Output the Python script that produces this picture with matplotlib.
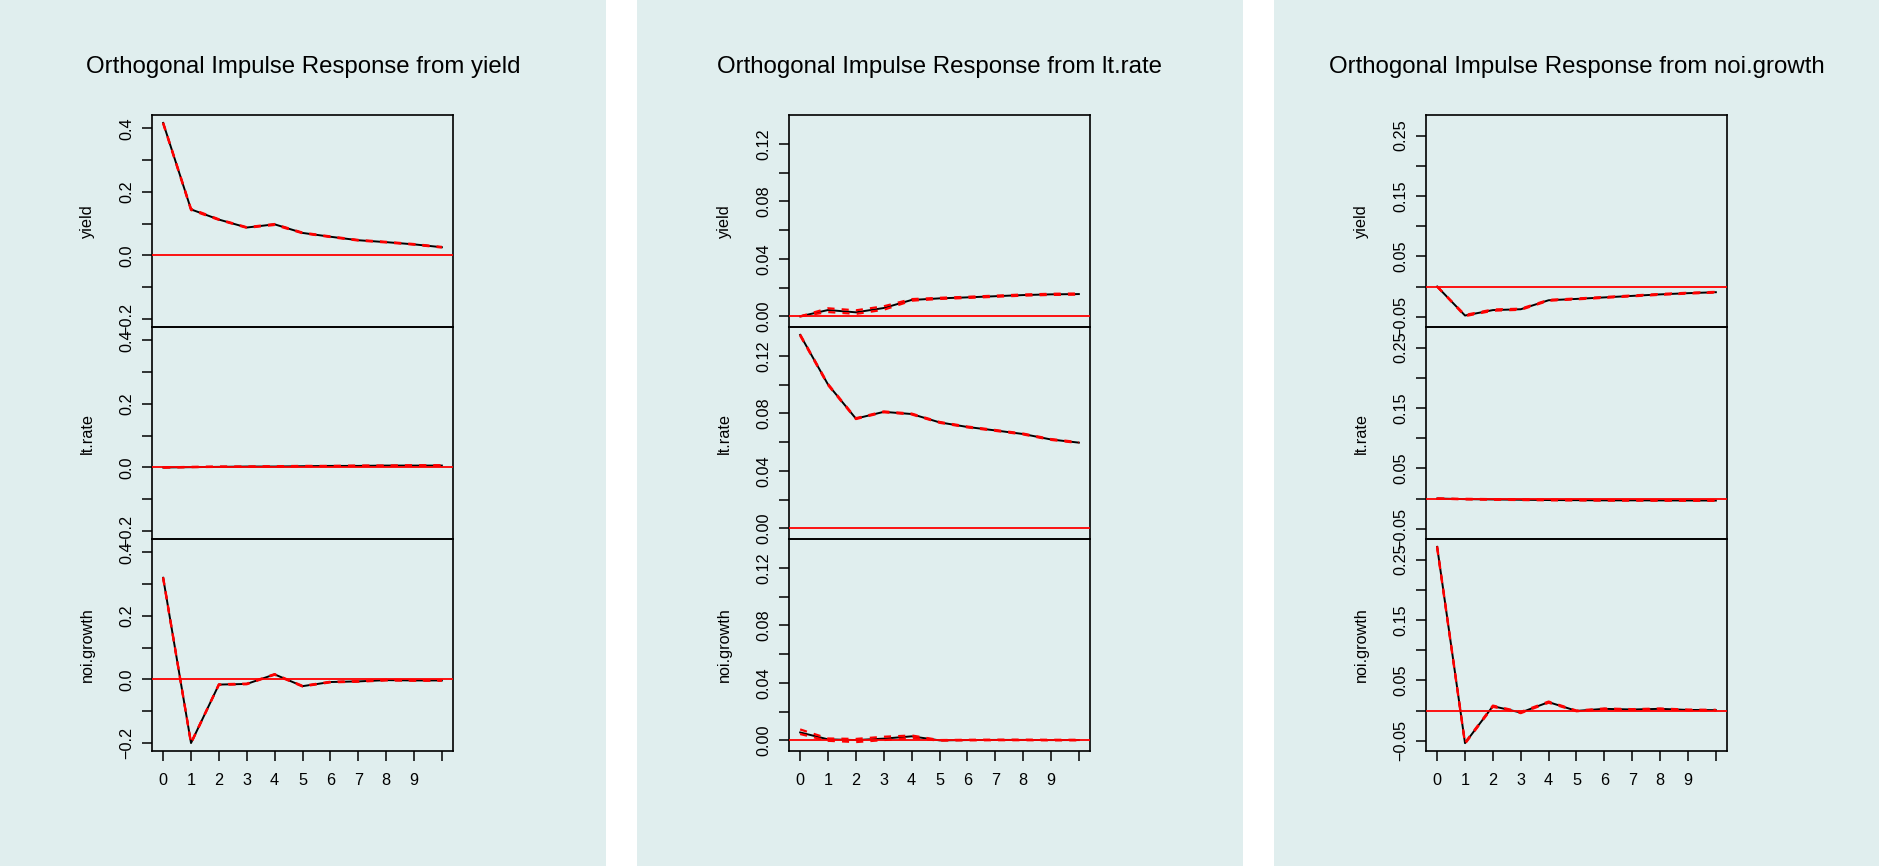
import matplotlib
matplotlib.use("Agg")
import matplotlib.pyplot as plt
from matplotlib.patches import Rectangle

plt.rcParams['font.family'] = ['Liberation Sans', 'DejaVu Sans']

# horizon steps and x tick labels
steps = list(range(11))
xtick_labels = ['0', '1', '2', '3', '4', '5', '6', '7', '8', '9', '']

impulses = ['yield', 'lt.rate', 'noi.growth']
responses = ['yield', 'lt.rate', 'noi.growth']

# --- impulse: yield ---
irf_yield_yield = [0.417, 0.145, 0.113, 0.088, 0.098, 0.071, 0.059, 0.048, 0.042, 0.035, 0.026]
lo_yield_yield = [0.415, 0.143, 0.112, 0.087, 0.096, 0.070, 0.058, 0.047, 0.041, 0.034, 0.025]
hi_yield_yield = [0.418, 0.147, 0.114, 0.089, 0.099, 0.072, 0.060, 0.049, 0.043, 0.036, 0.027]

irf_yield_lt = [0.000, 0.001, 0.002, 0.003, 0.003, 0.004, 0.005, 0.005, 0.006, 0.006, 0.006]
lo_yield_lt = [0.000, 0.001, 0.002, 0.002, 0.003, 0.004, 0.004, 0.005, 0.005, 0.006, 0.006]
hi_yield_lt = [0.000, 0.002, 0.003, 0.003, 0.004, 0.005, 0.005, 0.006, 0.006, 0.007, 0.007]

irf_yield_noi = [0.320, -0.200, -0.016, -0.014, 0.016, -0.021, -0.008, -0.006, -0.002, -0.003, -0.003]
lo_yield_noi = [0.318, -0.201, -0.017, -0.015, 0.015, -0.022, -0.009, -0.007, -0.003, -0.004, -0.004]
hi_yield_noi = [0.322, -0.199, -0.015, -0.013, 0.017, -0.020, -0.007, -0.005, -0.001, -0.002, -0.002]

# --- impulse: lt.rate ---
irf_lt_yield = [0.0000, 0.0044, 0.0028, 0.0058, 0.0114, 0.0125, 0.0132, 0.0140, 0.0148, 0.0153, 0.0155]
lo_lt_yield = [0.0000, 0.0030, 0.0017, 0.0046, 0.0109, 0.0121, 0.0128, 0.0136, 0.0144, 0.0149, 0.0151]
hi_lt_yield = [0.0000, 0.0056, 0.0042, 0.0070, 0.0120, 0.0129, 0.0136, 0.0144, 0.0152, 0.0157, 0.0159]

irf_lt_lt = [0.1345, 0.1000, 0.0763, 0.0810, 0.0795, 0.0737, 0.0705, 0.0681, 0.0656, 0.0618, 0.0596]
lo_lt_lt = [0.1340, 0.0996, 0.0760, 0.0807, 0.0792, 0.0734, 0.0702, 0.0678, 0.0653, 0.0615, 0.0593]
hi_lt_lt = [0.1348, 0.1004, 0.0766, 0.0813, 0.0798, 0.0740, 0.0708, 0.0684, 0.0659, 0.0621, 0.0599]

irf_lt_noi = [0.0055, 0.0007, 0.0002, 0.0012, 0.0028, 0.0000, 0.0002, 0.0003, 0.0003, 0.0002, 0.0002]
lo_lt_noi = [0.0044, -0.0003, -0.0012, 0.0002, 0.0018, -0.0002, 0.0000, 0.0001, 0.0001, 0.0000, 0.0000]
hi_lt_noi = [0.0076, 0.0013, 0.0010, 0.0025, 0.0034, 0.0002, 0.0004, 0.0005, 0.0005, 0.0004, 0.0004]

# --- impulse: noi.growth ---
irf_noi_yield = [0.000, -0.048, -0.039, -0.0376, -0.0227, -0.0205, -0.018, -0.0155, -0.013, -0.011, -0.0094]
lo_noi_yield = [0.000, -0.049, -0.040, -0.0385, -0.0235, -0.0212, -0.0187, -0.0162, -0.0137, -0.0117, -0.0100]
hi_noi_yield = [0.000, -0.047, -0.038, -0.0367, -0.0220, -0.0198, -0.0173, -0.0148, -0.0123, -0.0103, -0.0088]

irf_noi_lt = [0.000, -0.001, -0.0015, -0.002, -0.0025, -0.0027, -0.003, -0.003, -0.0031, -0.0032, -0.0033]
lo_noi_lt = [0.000, -0.0015, -0.002, -0.0025, -0.003, -0.0032, -0.0035, -0.0035, -0.0036, -0.0037, -0.0038]
hi_noi_lt = [0.000, -0.0005, -0.001, -0.0015, -0.002, -0.0022, -0.0025, -0.0025, -0.0026, -0.0027, -0.0028]

irf_noi_noi = [0.271, -0.054, 0.0072, -0.0033, 0.0139, -0.0006, 0.0028, 0.0017, 0.0028, 0.0010, 0.0006]
lo_noi_noi = [0.269, -0.055, 0.0062, -0.0043, 0.0129, -0.0012, 0.0022, 0.0011, 0.0022, 0.0004, 0.0000]
hi_noi_noi = [0.272, -0.053, 0.0082, -0.0023, 0.0149, 0.0000, 0.0034, 0.0023, 0.0034, 0.0016, 0.0012]

panel_data = [
    [(irf_yield_yield, lo_yield_yield, hi_yield_yield),
     (irf_yield_lt, lo_yield_lt, hi_yield_lt),
     (irf_yield_noi, lo_yield_noi, hi_yield_noi)],
    [(irf_lt_yield, lo_lt_yield, hi_lt_yield),
     (irf_lt_lt, lo_lt_lt, hi_lt_lt),
     (irf_lt_noi, lo_lt_noi, hi_lt_noi)],
    [(irf_noi_yield, lo_noi_yield, hi_noi_yield),
     (irf_noi_lt, lo_noi_lt, hi_noi_lt),
     (irf_noi_noi, lo_noi_noi, hi_noi_noi)],
]

# y axis ranges, ticks and which ticks get a label
ylims = [(-0.225, 0.442), (-0.0074, 0.140), (-0.067, 0.284)]
yticks = [[-0.2, -0.1, 0.0, 0.1, 0.2, 0.3, 0.4],
          [0.00, 0.02, 0.04, 0.06, 0.08, 0.10, 0.12],
          [-0.05, 0.00, 0.05, 0.10, 0.15, 0.20, 0.25]]
ytick_labels = [['\u22120.2', '', '0.0', '', '0.2', '', '0.4'],
                ['0.00', '', '0.04', '', '0.08', '', '0.12'],
                ['\u22120.05', '', '0.05', '', '0.15', '', '0.25']]

W, H = 1879, 866
bg = '#E0EEEE'
panel_x = [0, 637, 1274]
panel_w = 606

fig = plt.figure(figsize=(W / 100, H / 100), dpi=100)
fig.patch.set_facecolor('white')

fs = 11.7
for i, ox in enumerate(panel_x):
    fig.patches.append(Rectangle((ox / W, 0), panel_w / W, 1, transform=fig.transFigure,
                                 facecolor=bg, edgecolor='none', zorder=-10))
    fig.text((ox + 303) / W, 1 - 67 / H, 'Orthogonal Impulse Response from ' + impulses[i],
             ha='center', va='center', fontsize=17.3)

    for j in range(3):
        top = 115 + 212 * j
        ax = fig.add_axes([(ox + 152) / W, (H - top - 212) / H, 301 / W, 212 / H])
        ax.set_facecolor('none')
        irf, lo, hi = panel_data[i][j]
        ax.plot(steps, irf, color='black', lw=1.4, zorder=2)
        ax.plot(steps, lo, color='red', lw=1.6, linestyle=(0, (3.2, 3.2)), zorder=3)
        ax.plot(steps, hi, color='red', lw=1.6, linestyle=(0, (3.2, 3.2)), zorder=3)
        ax.axhline(0, color='red', lw=1.3, zorder=4)

        ax.set_xlim(-0.4, 10.4)
        ax.set_ylim(ylims[i])
        ax.set_yticks(yticks[i])
        ax.set_yticklabels(ytick_labels[i], rotation=90, va='center', fontsize=fs)
        ax.tick_params(axis='y', length=7.2, width=1.1, pad=5.5, direction='out')
        if j == 2:
            ax.set_xticks(steps)
            ax.set_xticklabels(xtick_labels, fontsize=fs)
            ax.tick_params(axis='x', length=7.2, width=1.1, pad=8.5, direction='out')
        else:
            ax.set_xticks([])
        for s in ax.spines.values():
            s.set_linewidth(1.2)
            s.set_color('black')

        fig.text((ox + 87) / W, 1 - (top + 106) / H, responses[j], rotation=90,
                 ha='center', va='center', fontsize=fs)

fig.savefig('out.png', dpi=100, facecolor=fig.get_facecolor())
